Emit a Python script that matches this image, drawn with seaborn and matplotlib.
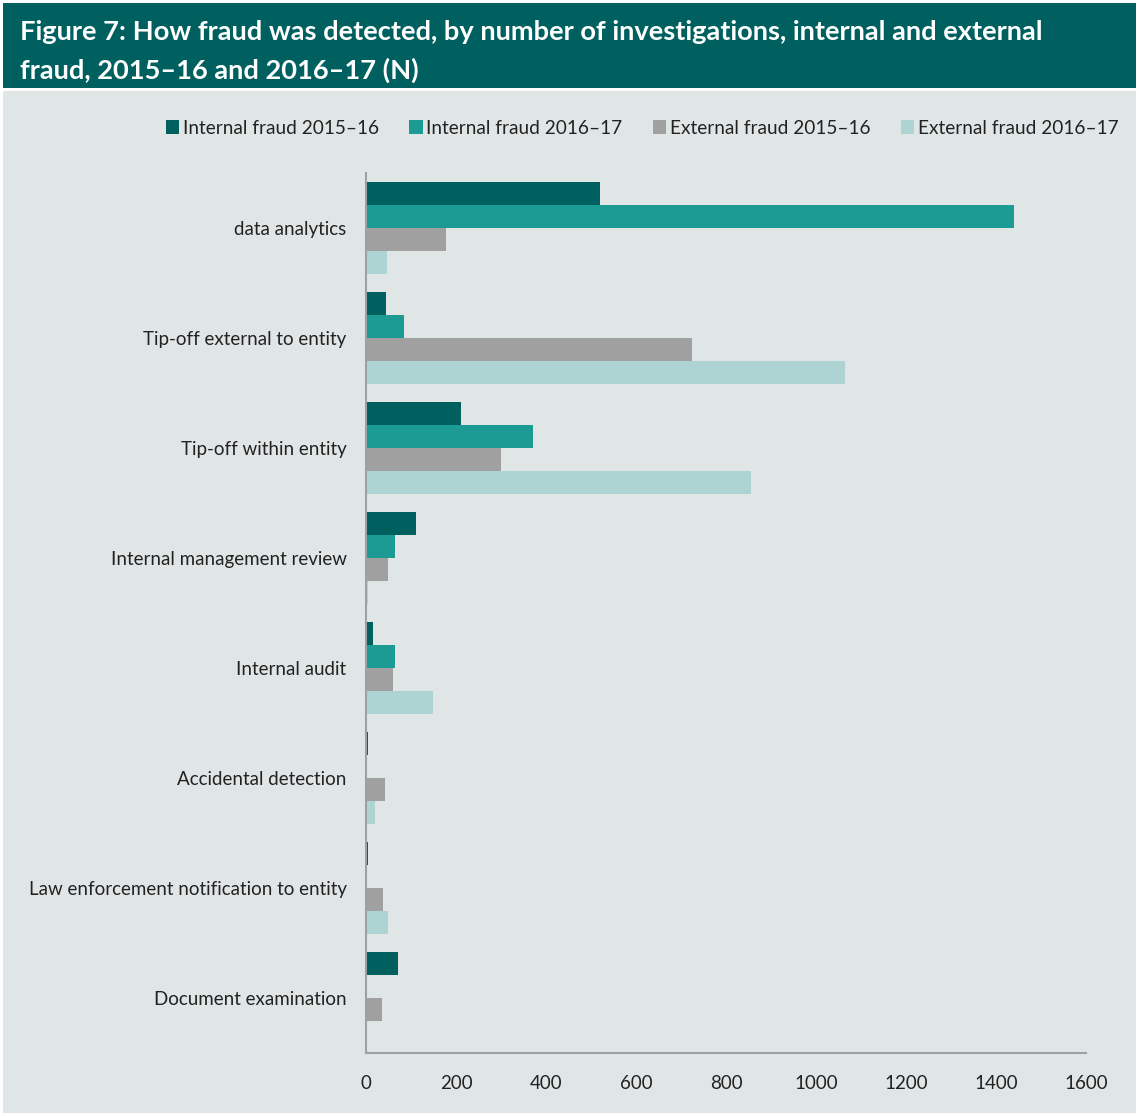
import matplotlib
matplotlib.use("Agg")
import matplotlib.pyplot as plt
from matplotlib.patches import Rectangle
import seaborn as sns
import pandas as pd

categories = ["data analytics", "Tip-off external to entity", "Tip-off within entity",
              "Internal management review", "Internal audit", "Accidental detection",
              "Law enforcement notification to entity", "Document examination"]
series_names = ["Internal fraud 2015\u201316", "Internal fraud 2016\u201317",
                "External fraud 2015\u201316", "External fraud 2016\u201317"]
internal_1516 = [520, 44, 211, 110, 16, 4, 4, 70]
internal_1617 = [1440, 84, 371, 64, 64, 0, 0, 0]
external_1516 = [178, 724, 300, 49, 60, 42, 37, 35]
external_1617 = [47, 1064, 856, 4, 148, 19, 48, 0]
x_ticks = [0, 200, 400, 600, 800, 1000, 1200, 1400, 1600]

colors = ["#00605f", "#1b9b93", "#a0a0a0", "#aed3d3"]
bg = "#e0e6e6"

df = pd.DataFrame({"category": categories,
                   series_names[0]: internal_1516,
                   series_names[1]: internal_1617,
                   series_names[2]: external_1516,
                   series_names[3]: external_1617})
long = df.melt(id_vars="category", var_name="series", value_name="value")

sns.set_style("white")
plt.rcParams["font.family"] = ["Lato", "DejaVu Sans"]

fig = plt.figure(figsize=(11.37, 11.17), dpi=100)
fig.patch.set_facecolor("white")
W, H = 1137, 1117
# background panel and title bar
fig.patches.append(Rectangle((3 / W, 4 / H), (W - 4) / W, (1113 - 91) / H,
                             transform=fig.transFigure, facecolor=bg, edgecolor="none", zorder=-10))
fig.patches.append(Rectangle((3 / W, 1 - 88 / H), (W - 4) / W, 85 / H,
                             transform=fig.transFigure, facecolor="#006060", edgecolor="none", zorder=-10))
fig.text(20 / W, 1 - 32 / H, "Figure 7: How fraud was detected, by number of investigations, internal and external",
         color="white", fontsize=19.6, fontweight="bold", va="center", ha="left")
fig.text(20 / W, 1 - 70 / H, "fraud, 2015\u201316 and 2016\u201317 (N)",
         color="white", fontsize=19.6, fontweight="bold", va="center", ha="left")

ax = fig.add_axes([366 / W, 1 - 1053 / H, 720 / W, 880 / H])
ax.set_zorder(1)
ax.set_facecolor(bg)
sns.barplot(data=long, y="category", x="value", hue="series", order=categories,
            hue_order=series_names, palette=colors, orient="h", width=0.84,
            saturation=1, linewidth=0, ax=ax, legend=True)
ax.set_xlim(0, 1600)
ax.set_ylim(7.5, -0.5)
ax.set_xticks(x_ticks)
ax.set_xticklabels([str(t) for t in x_ticks])
ax.set_xlabel("")
ax.set_ylabel("")
for s in ["top", "right"]:
    ax.spines[s].set_visible(False)
for s in ["left", "bottom"]:
    ax.spines[s].set_color("#a0a0a0")
    ax.spines[s].set_linewidth(1.5)
ax.tick_params(axis="both", length=0, labelsize=13.5, labelcolor="#222222")
ax.tick_params(axis="y", pad=14)
ax.tick_params(axis="x", pad=16)

handles, labels = ax.get_legend_handles_labels()
ax.get_legend().remove()
fig.legend(handles, labels, loc="center right", bbox_to_anchor=(1136 / W, 1 - 128 / H),
           ncol=4, frameon=False, fontsize=13.7, handlelength=0.7, handleheight=0.7,
           handletextpad=0.2, columnspacing=1.6, labelcolor="#222222")

fig.savefig("out.png", dpi=100, facecolor=fig.get_facecolor())
